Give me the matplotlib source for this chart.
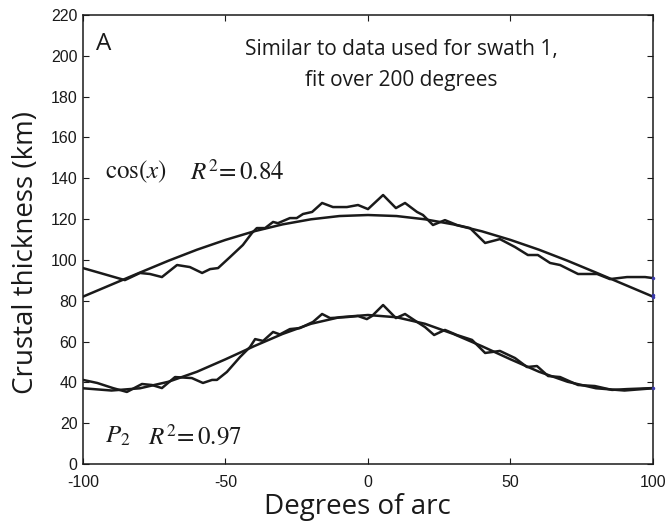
import matplotlib
matplotlib.use("Agg")
import matplotlib.pyplot as plt

# ---- data ----
# upper curve (data similar to swath 1)
upper_x = [-100, -94, -85.3, -80, -76.5, -72.3, -67, -62.5, -58.2, -55.4, -52.6, -48.4, -43.9,
           -40.7, -39, -36.1, -33.3, -31.6, -27.4, -25, -22.8, -19.6, -16.1, -12.3, -7.4, -3.5,
           0, 5.3, 9.8, 13, 17.2, 19.3, 22.8, 27, 31.2, 35.8, 41.1, 46.3, 51.6, 56.1, 59.6,
           63.9, 67.4, 73.7, 80.4, 84.9, 90.9, 97.2, 100]
upper_y = [96.0, 93.6, 90.1, 93.6, 93.1, 91.6, 97.5, 96.5, 93.6, 95.5, 96.0, 101.4, 107.3,
           113.2, 115.6, 115.6, 118.6, 118.0, 120.5, 120.5, 122.5, 123.5, 127.9, 125.9, 125.9, 126.9,
           124.9, 131.8, 125.4, 127.9, 123.5, 122.0, 117.1, 119.5, 117.1, 115.6, 108.3, 110.2, 106.3, 102.4, 102.4,
           98.5, 97.5, 93.1, 93.1, 90.6, 91.6, 91.6, 91.1]

# lower curve
lower_x = [-100, -95, -89.5, -84.6, -79.3, -75.8, -72.3, -67.7, -61.8, -57.9, -54.7, -53, -49.5,
           -44.9, -41.4, -39.6, -36.8, -33.3, -30.9, -27.4, -23.9, -19.3, -16.1, -13.3, -7.4, -3.5,
           -0.4, 1.4, 5.3, 9.8, 13, 17.2, 20, 23.2, 27, 31.2, 36.5, 41.1, 46.3, 51.6, 55.8, 59.3,
           63.2, 67.4, 73.7, 79.6, 85.6, 90.9, 100]
lower_y = [41.2, 39.7, 37.2, 35.3, 39.2, 38.7, 37.2, 42.6, 42.1, 39.7, 41.2, 41.2, 45.1,
           52.4, 57.3, 61.2, 60.3, 64.7, 63.5, 66.1, 66.6, 69.6, 73.5, 71.5, 72.0, 72.5,
           71.0, 72.5, 77.9, 71.5, 73.5, 69.6, 67.1, 63.2, 65.7, 63.2, 60.8, 54.4, 55.4, 51.9, 47.5, 48.0,
           43.1, 42.6, 38.7, 38.2, 36.3, 36.7, 37.2]

# fitted curves (read every 10 degrees)
fit_x = [-100, -90, -80, -70, -60, -50, -40, -30, -20, -10, 0,
         10, 20, 30, 40, 50, 60, 70, 80, 90, 100]
cos_fit = [82.0, 87.9, 93.8, 99.6, 105.0, 109.8, 114.0, 117.4, 119.9, 121.5, 122.0,
           121.5, 119.9, 117.4, 114.0, 109.8, 105.0, 99.6, 93.8, 87.9, 82.0]
p2_fit = [37.1, 36.0, 37.1, 40.3, 45.2, 51.3, 57.7, 63.7, 68.7, 71.9, 73.0,
          71.9, 68.7, 63.7, 57.7, 51.3, 45.2, 40.3, 37.1, 36.0, 37.1]

edge_x = [100, 100, 100, 100]
edge_y = [91.1, 82.6, 81.6, 37.4]

x_ticks = [-100, -50, 0, 50, 100]
y_ticks = list(range(0, 221, 20))

plt.rcParams['mathtext.fontset'] = 'stix'

INK = '#1a1a1a'
fig = plt.figure(figsize=(6.67, 5.29), dpi=100)
ax = fig.add_axes([0.1244, 0.1229, 0.979 - 0.1244, 0.9716 - 0.1229])

lw = 1.8
kw = dict(color=INK, lw=lw, solid_joinstyle='round', solid_capstyle='round')
ax.plot(upper_x, upper_y, **kw)
ax.plot(fit_x, cos_fit, **kw)
ax.plot(lower_x, lower_y, **kw)
ax.plot(fit_x, p2_fit, **kw)
ax.plot(edge_x, edge_y, ls='none', marker='.', ms=3, color='#3a3aa8', clip_on=False, zorder=5)

ax.set_xlim(-100, 100)
ax.set_ylim(0, 220)
ax.set_xticks(x_ticks)
ax.set_yticks(y_ticks)
ax.set_xticklabels([str(v) for v in x_ticks])
ax.tick_params(direction='in', length=4, width=0.8, top=True, right=True,
               labelsize=11.5, colors=INK)
ax.tick_params(axis='x', pad=8)
ax.tick_params(axis='y', pad=4)
for lab in ax.get_xticklabels() + ax.get_yticklabels():
    lab.set_family('Liberation Sans')
for sp in ax.spines.values():
    sp.set_linewidth(1.1)
    sp.set_color(INK)

ax.set_xlabel('Degrees of arc', fontsize=20, family='Open Sans', color=INK)
ax.set_ylabel('Crustal thickness (km)', fontsize=20, family='Open Sans', color=INK)
ax.xaxis.set_label_coords(0.4816, -0.064)
ax.yaxis.set_label_coords(-0.075, 0.47)

ax.text(-95.5, 206, 'A', fontsize=17.5, family='Open Sans', va='center', ha='left', color=INK)
ax.text(11.6, 195.5, 'Similar to data used for swath 1,\nfit over 200 degrees', fontsize=15,
        family='Open Sans', ha='center', va='center', linespacing=1.62, color=INK)

ax.text(-92.3, 143, r'$\mathrm{cos}(x)$', fontsize=18, ha='left', va='center', color=INK)
ax.text(-62.5, 143, r'$R^{2}\!= 0.84$', fontsize=18, ha='left', va='center', color=INK)
ax.text(-92.3, 13.5, r'$P_{2}$', fontsize=18, ha='left', va='center', color=INK)
ax.text(-77.2, 13.5, r'$R^{2}\!= 0.97$', fontsize=18, ha='left', va='center', color=INK)

fig.savefig('out.png', dpi=100)
